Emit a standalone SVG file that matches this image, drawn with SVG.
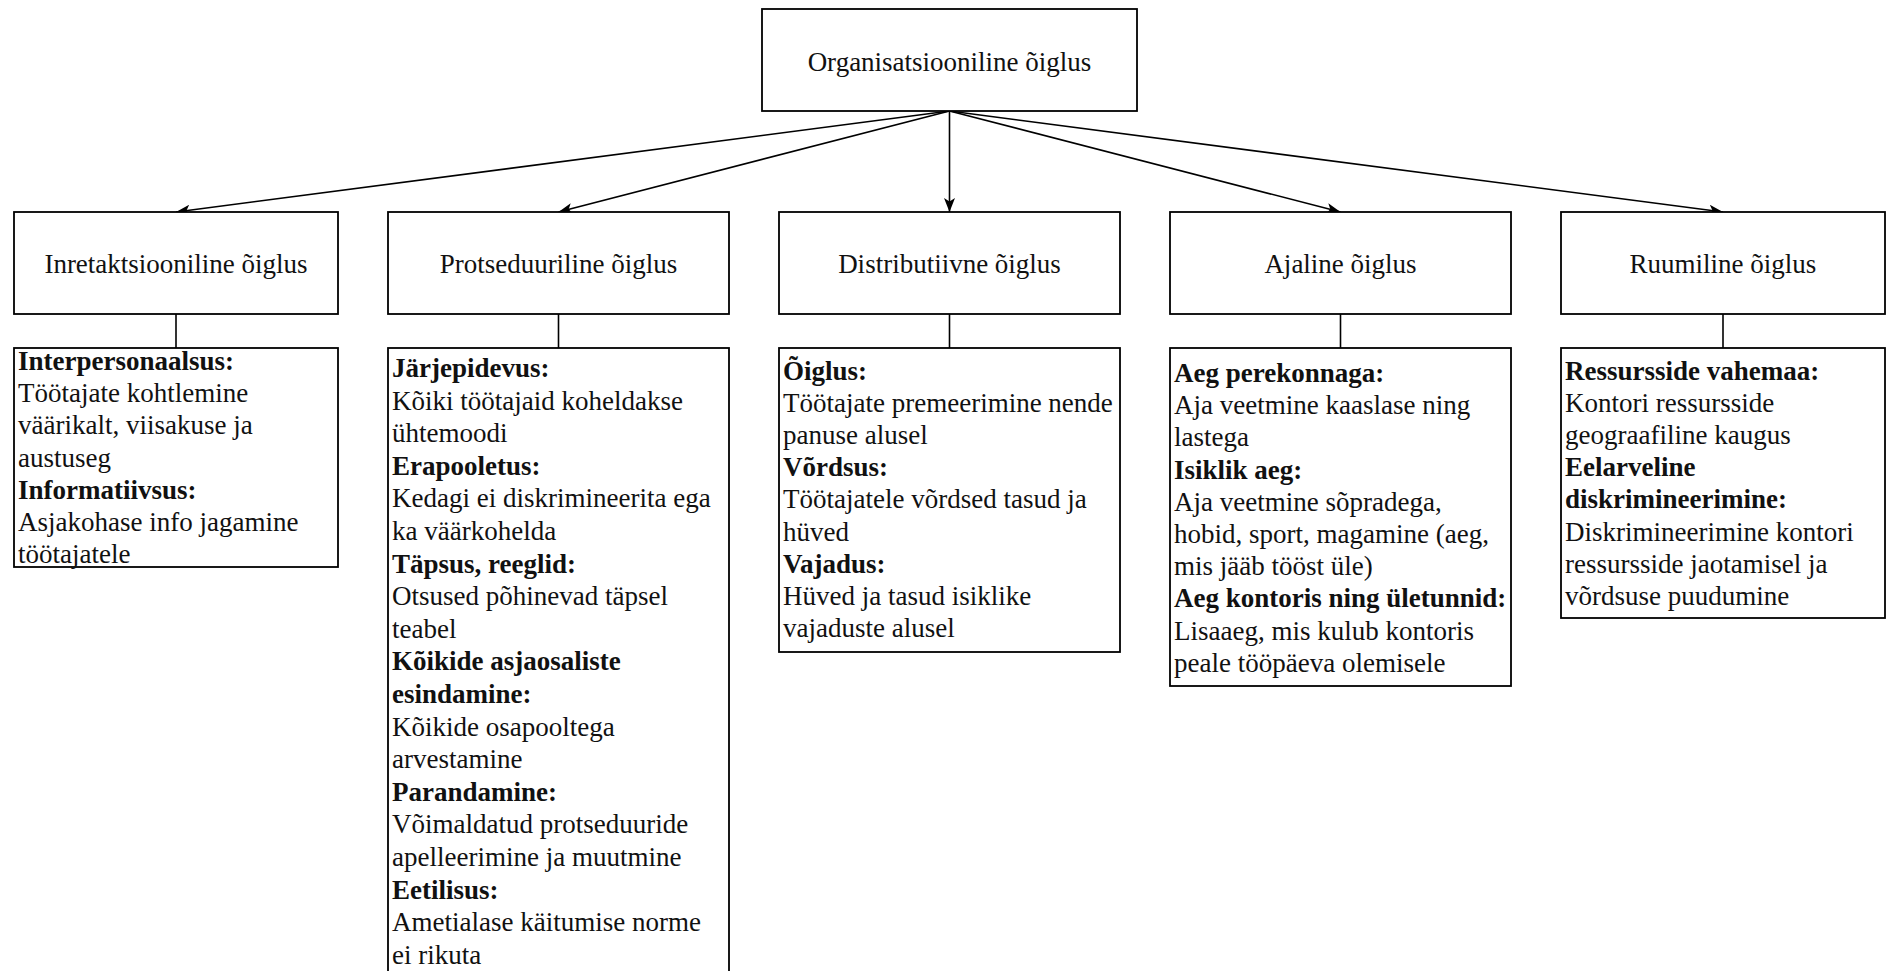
<svg xmlns="http://www.w3.org/2000/svg" width="1887" height="971" viewBox="0 0 1887 971">
  <style>
    .box { fill: #ffffff; stroke: #000000; stroke-width: 1.8; }
    .link { fill: none; stroke: #000000; stroke-width: 1.6; }
    .title { font-family: "Liberation Serif", "Times New Roman", serif; font-size: 27px; fill: #111111; text-anchor: middle; }
    .body { font-family: "Liberation Serif", "Times New Roman", serif; font-size: 27px; fill: #111111; }
    .b { font-weight: bold; }
  </style>
  <defs>
    <marker id="arrow" viewBox="0 0 14 11" refX="14" refY="5.5" markerWidth="14" markerHeight="11" markerUnits="userSpaceOnUse" orient="auto">
      <path d="M0,0 L14,5.5 L0,11 L3.5,5.5 Z" fill="#000000"/>
    </marker>
  </defs>

  <rect width="1887" height="971" fill="#ffffff"/>

  <!-- connectors -->
  <g id="connectors">
    <line class="link" x1="949.5" y1="111" x2="176" y2="212" marker-end="url(#arrow)"/>
    <line class="link" x1="949.5" y1="111" x2="558.5" y2="212" marker-end="url(#arrow)"/>
    <line class="link" x1="949.5" y1="111" x2="949.5" y2="212" marker-end="url(#arrow)"/>
    <line class="link" x1="949.5" y1="111" x2="1340.5" y2="212" marker-end="url(#arrow)"/>
    <line class="link" x1="949.5" y1="111" x2="1723" y2="212" marker-end="url(#arrow)"/>
    <line class="link" x1="176" y1="314" x2="176" y2="348"/>
    <line class="link" x1="558.5" y1="314" x2="558.5" y2="348"/>
    <line class="link" x1="949.5" y1="314" x2="949.5" y2="348"/>
    <line class="link" x1="1340.5" y1="314" x2="1340.5" y2="348"/>
    <line class="link" x1="1723" y1="314" x2="1723" y2="348"/>
  </g>

  <!-- root -->
  <g id="root">
    <rect class="box" x="762" y="9" width="375" height="102"/>
    <text class="title" x="949.5" y="71">Organisatsiooniline õiglus</text>
  </g>

  <!-- second level -->
  <g id="interaktsiooniline">
    <rect class="box" x="14" y="212" width="324" height="102"/>
    <text class="title" x="176" y="273">Inretaktsiooniline õiglus</text>
  </g>
  <g id="protseduuriline">
    <rect class="box" x="388" y="212" width="341" height="102"/>
    <text class="title" x="558.5" y="273">Protseduuriline õiglus</text>
  </g>
  <g id="distributiivne">
    <rect class="box" x="779" y="212" width="341" height="102"/>
    <text class="title" x="949.5" y="273">Distributiivne õiglus</text>
  </g>
  <g id="ajaline">
    <rect class="box" x="1170" y="212" width="341" height="102"/>
    <text class="title" x="1340.5" y="273">Ajaline õiglus</text>
  </g>
  <g id="ruumiline">
    <rect class="box" x="1561" y="212" width="324" height="102"/>
    <text class="title" x="1723" y="273">Ruumiline õiglus</text>
  </g>

  <!-- detail boxes -->
  <g id="interaktsiooniline-details">
    <rect class="box" x="14" y="348" width="324" height="219"/>
    <text class="body" x="18" y="370">
      <tspan class="b" x="18" y="370">Interpersonaalsus:</tspan>
      <tspan x="18" y="402.2">Töötajate kohtlemine</tspan>
      <tspan x="18" y="434.4">väärikalt, viisakuse ja</tspan>
      <tspan x="18" y="466.6">austuseg</tspan>
      <tspan class="b" x="18" y="498.8">Informatiivsus:</tspan>
      <tspan x="18" y="531">Asjakohase info jagamine</tspan>
      <tspan x="18" y="563.2">töötajatele</tspan>
    </text>
  </g>

  <g id="protseduuriline-details">
    <rect class="box" x="388" y="348" width="341" height="640"/>
    <text class="body" x="392" y="377">
      <tspan class="b" x="392" y="377">Järjepidevus:</tspan>
      <tspan x="392" y="409.6">Kõiki töötajaid koheldakse</tspan>
      <tspan x="392" y="442.2">ühtemoodi</tspan>
      <tspan class="b" x="392" y="474.8">Erapooletus:</tspan>
      <tspan x="392" y="507.4">Kedagi ei diskrimineerita ega</tspan>
      <tspan x="392" y="540">ka väärkohelda</tspan>
      <tspan class="b" x="392" y="572.6">Täpsus, reeglid:</tspan>
      <tspan x="392" y="605.2">Otsused põhinevad täpsel</tspan>
      <tspan x="392" y="637.8">teabel</tspan>
      <tspan class="b" x="392" y="670.4">Kõikide asjaosaliste</tspan>
      <tspan class="b" x="392" y="703">esindamine:</tspan>
      <tspan x="392" y="735.6">Kõikide osapooltega</tspan>
      <tspan x="392" y="768.2">arvestamine</tspan>
      <tspan class="b" x="392" y="800.8">Parandamine:</tspan>
      <tspan x="392" y="833.4">Võimaldatud protseduuride</tspan>
      <tspan x="392" y="866">apelleerimine ja muutmine</tspan>
      <tspan class="b" x="392" y="898.6">Eetilisus:</tspan>
      <tspan x="392" y="931.2">Ametialase käitumise norme</tspan>
      <tspan x="392" y="963.8">ei rikuta</tspan>
    </text>
  </g>

  <g id="distributiivne-details">
    <rect class="box" x="779" y="348" width="341" height="304"/>
    <text class="body" x="783" y="380">
      <tspan class="b" x="783" y="380">Õiglus:</tspan>
      <tspan x="783" y="412.1">Töötajate premeerimine nende</tspan>
      <tspan x="783" y="444.2">panuse alusel</tspan>
      <tspan class="b" x="783" y="476.3">Võrdsus:</tspan>
      <tspan x="783" y="508.4">Töötajatele võrdsed tasud ja</tspan>
      <tspan x="783" y="540.5">hüved</tspan>
      <tspan class="b" x="783" y="572.6">Vajadus:</tspan>
      <tspan x="783" y="604.7">Hüved ja tasud isiklike</tspan>
      <tspan x="783" y="636.8">vajaduste alusel</tspan>
    </text>
  </g>

  <g id="ajaline-details">
    <rect class="box" x="1170" y="348" width="341" height="338"/>
    <text class="body" x="1174" y="382">
      <tspan class="b" x="1174" y="382">Aeg perekonnaga:</tspan>
      <tspan x="1174" y="414.2">Aja veetmine kaaslase ning</tspan>
      <tspan x="1174" y="446.4">lastega</tspan>
      <tspan class="b" x="1174" y="478.6">Isiklik aeg:</tspan>
      <tspan x="1174" y="510.8">Aja veetmine sõpradega,</tspan>
      <tspan x="1174" y="543">hobid, sport, magamine (aeg,</tspan>
      <tspan x="1174" y="575.2">mis jääb tööst üle)</tspan>
      <tspan class="b" x="1174" y="607.4">Aeg kontoris ning ületunnid:</tspan>
      <tspan x="1174" y="639.6">Lisaaeg, mis kulub kontoris</tspan>
      <tspan x="1174" y="671.8">peale tööpäeva olemisele</tspan>
    </text>
  </g>

  <g id="ruumiline-details">
    <rect class="box" x="1561" y="348" width="324" height="270"/>
    <text class="body" x="1565" y="380">
      <tspan class="b" x="1565" y="380">Ressursside vahemaa:</tspan>
      <tspan x="1565" y="412.1">Kontori ressursside</tspan>
      <tspan x="1565" y="444.2">geograafiline kaugus</tspan>
      <tspan class="b" x="1565" y="476.3">Eelarveline</tspan>
      <tspan class="b" x="1565" y="508.4">diskrimineerimine:</tspan>
      <tspan x="1565" y="540.5">Diskrimineerimine kontori</tspan>
      <tspan x="1565" y="572.6">ressursside jaotamisel ja</tspan>
      <tspan x="1565" y="604.7">võrdsuse puudumine</tspan>
    </text>
  </g>
</svg>
